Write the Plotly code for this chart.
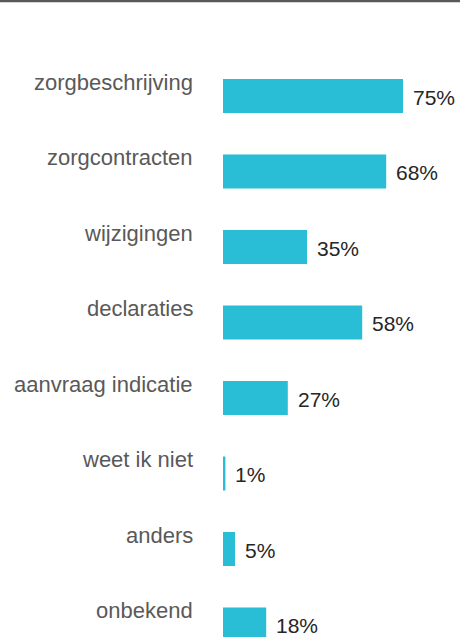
import plotly.graph_objects as go

categories = ["zorgbeschrijving", "zorgcontracten", "wijzigingen", "declaraties",
              "aanvraag indicatie", "weet ik niet", "anders", "onbekend"]
values = [75, 68, 35, 58, 27, 1, 5, 18]
value_labels = [f"{v}%" for v in values]

BAR_COLOR = "#2ABED6"

fig = go.Figure()
fig.add_trace(go.Bar(
    x=values, y=categories, orientation="h",
    marker=dict(color=BAR_COLOR, line=dict(width=0)),
    width=0.45, hoverinfo="skip", showlegend=False,
))

# value labels to the right of bars
for c, v, lab in zip(categories, values, value_labels):
    fig.add_annotation(x=v, y=c, xref="x", yref="y", text=lab, showarrow=False,
                       xanchor="left", yanchor="middle", xshift=8, yshift=-1,
                       font=dict(family="Liberation Sans, Arial", size=21, color="#262626"))

# category labels, right aligned, above bar centre
for c in categories:
    fig.add_annotation(x=(195 - 223) / 2.4, y=c, xref="x", yref="y", text=c, showarrow=False,
                       xanchor="right", yanchor="middle", yshift=14,
                       font=dict(family="Liberation Sans, Arial", size=22, color="#595959"))

fig.add_shape(type="line", xref="paper", yref="paper", x0=0, x1=1, y0=0.9985, y1=0.9985,
              line=dict(color="#595959", width=2.5))

fig.update_layout(
    width=460, height=637,
    margin=dict(l=0, r=0, t=0, b=0),
    paper_bgcolor="white", plot_bgcolor="white",
    xaxis=dict(range=[-223 / 2.4, (460 - 223) / 2.4], visible=False, fixedrange=True),
    yaxis=dict(range=[(637 - 96) / 75.5, -96 / 75.5], visible=False,
               categoryorder="array", categoryarray=categories, fixedrange=True),
)

fig.write_html("out.html", config={"displayModeBar": False},
               post_script="document.body.style.margin='0';document.body.style.overflow='hidden';")
